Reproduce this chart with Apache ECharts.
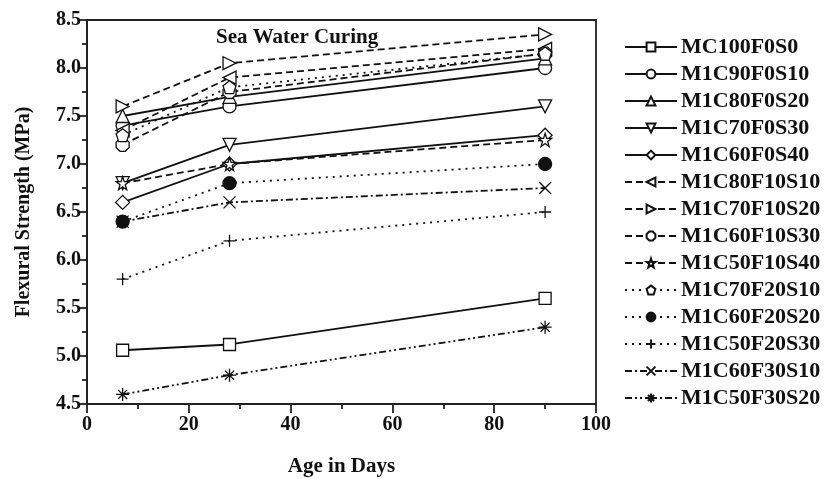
<!DOCTYPE html>
<html>
<head>
<meta charset="utf-8">
<script src="https://cdn.jsdelivr.net/npm/echarts@6/dist/echarts.min.js"></script>
<style>
  html, body { margin: 0; padding: 0; background: #fff; }
  #chart { width: 827px; height: 479px; }
</style>
</head>
<body>
<div id="chart"></div>
<script>
// ages (days)
var days = [7, 28, 90];

var names = [
  'MC100F0S0', 'M1C90F0S10', 'M1C80F0S20', 'M1C70F0S30', 'M1C60F0S40',
  'M1C80F10S10', 'M1C70F10S20', 'M1C60F10S30', 'M1C50F10S40',
  'M1C70F20S10', 'M1C60F20S20', 'M1C50F20S30',
  'M1C60F30S10', 'M1C50F30S20'
];

// flexural strength (MPa)
var mc100f0s0   = [5.06, 5.12, 5.6];
var m1c90f0s10  = [7.4, 7.6, 8.0];
var m1c80f0s20  = [7.5, 7.7, 8.1];
var m1c70f0s30  = [6.8, 7.2, 7.6];
var m1c60f0s40  = [6.6, 7.0, 7.3];
var m1c80f10s10 = [7.35, 7.9, 8.2];
var m1c70f10s20 = [7.6, 8.05, 8.35];
var m1c60f10s30 = [7.2, 7.75, 8.15];
var m1c50f10s40 = [6.8, 7.0, 7.25];
var m1c70f20s10 = [7.3, 7.8, 8.15];
var m1c60f20s20 = [6.4, 6.8, 7.0];
var m1c50f20s30 = [5.8, 6.2, 6.5];
var m1c60f30s10 = [6.4, 6.6, 6.75];
var m1c50f30s20 = [4.6, 4.8, 5.3];

var values = [
  mc100f0s0, m1c90f0s10, m1c80f0s20, m1c70f0s30, m1c60f0s40,
  m1c80f10s10, m1c70f10s20, m1c60f10s30, m1c50f10s40,
  m1c70f20s10, m1c60f20s20, m1c50f20s30,
  m1c60f30s10, m1c50f30s20
];

var FONT = '"Liberation Serif", "Times New Roman", serif';

var SOLID = 'solid';
var DASH = [7, 4];
var DOT = [2, 5];
var DASHDOT = [7, 3, 2, 3];
var DASHDOTDOT = [7, 3, 2, 3, 2, 3];

var hexagon = 'path://M3,0L7,0L10,3L10,7L7,10L3,10L0,7L0,3Z';
var pentagon = 'path://M5,0L10,3.8L8.1,10L1.9,10L0,3.8Z';
var star = 'path://M5,0L6.2,3.6L10,3.6L7,5.9L8.1,9.6L5,7.4L1.9,9.6L3,5.9L0,3.6L3.8,3.6Z';
var diamond = 'path://M5,0L10,5L5,10L0,5Z';
var plus = 'path://M0,5L10,5M5,0L5,10';
var cross = 'path://M0,0L10,10M10,0L0,10';
var asterisk = 'path://M0,5L10,5M5,0L5,10M1.5,1.5L8.5,8.5M8.5,1.5L1.5,8.5';

var styles = [
  { symbol: 'rect', size: 12, line: SOLID },
  { symbol: 'circle', size: 13, line: SOLID },
  { symbol: 'triangle', size: 13, line: SOLID },
  { symbol: 'triangle', size: 13, line: SOLID, rotate: 180 },
  { symbol: diamond, size: 14, line: SOLID },
  { symbol: 'triangle', size: 13, line: DASH, rotate: 90 },
  { symbol: 'triangle', size: 13, line: DASH, rotate: -90 },
  { symbol: hexagon, size: 13, line: DASH },
  { symbol: star, size: 13, line: DASH },
  { symbol: pentagon, size: 13, line: DOT },
  { symbol: 'circle', size: 13, line: DOT, filled: true },
  { symbol: plus, size: 12, line: DOT, stroke: true },
  { symbol: cross, size: 12, line: DASHDOT, stroke: true },
  { symbol: asterisk, size: 13, line: DASHDOTDOT, stroke: true }
];

var series = names.map(function (name, i) {
  var st = styles[i];
  return {
    name: name,
    type: 'line',
    data: days.map(function (d, j) { return [d, values[i][j]]; }),
    symbol: st.symbol,
    symbolSize: st.size,
    symbolRotate: st.rotate || 0,
    showAllSymbol: true,
    lineStyle: { color: '#111', width: 1.8, type: st.line },
    itemStyle: {
      color: st.filled ? '#111' : (st.stroke ? 'none' : '#fff'),
      borderColor: '#111',
      borderWidth: 1.3
    },
    emphasis: { disabled: true },
    animation: false,
    z: 2
  };
});

var chart = echarts.init(document.getElementById('chart'));
chart.setOption({
  backgroundColor: '#fff',
  animation: false,
  title: {
    text: 'Sea Water Curing',
    left: 211,
    top: 22,
    textStyle: { fontFamily: FONT, fontWeight: 'bold', fontSize: 21, color: '#111' }
  },
  legend: {
    orient: 'vertical',
    left: 624,
    top: 36,
    padding: 0,
    itemWidth: 52,
    itemHeight: 11,
    itemGap: 5,
    selectedMode: false,
    data: names,
    textStyle: { fontFamily: FONT, fontWeight: 'bold', fontSize: 22, color: '#111', padding: [0, 0, 0, -1] }
  },
  grid: {
    left: 87,
    right: 231,
    top: 20,
    bottom: 75,
    outerBoundsMode: 'none',
    show: true,
    borderColor: '#222',
    borderWidth: 1.8
  },
  xAxis: {
    type: 'value',
    min: 0,
    max: 100,
    interval: 20,
    splitNumber: 2,
    name: 'Age in Days',
    nameLocation: 'middle',
    nameGap: 52,
    nameTextStyle: { fontFamily: FONT, fontWeight: 'bold', fontSize: 21, color: '#111' },
    axisLine: { lineStyle: { color: '#222', width: 1.8 } },
    axisTick: { length: 9, lineStyle: { color: '#222', width: 1.8 } },
    minorTick: { show: true, splitNumber: 2, length: 5, lineStyle: { color: '#222', width: 1.8 } },
    splitLine: { show: false },
    axisLabel: { margin: 11, fontFamily: FONT, fontWeight: 'bold', fontSize: 20, color: '#111' }
  },
  yAxis: {
    type: 'value',
    min: 4.5,
    max: 8.5,
    interval: 0.5,
    name: 'Flexural Strength (MPa)',
    nameLocation: 'middle',
    nameGap: 53,
    nameTextStyle: { fontFamily: FONT, fontWeight: 'bold', fontSize: 20, color: '#111' },
    axisLine: { show: true, lineStyle: { color: '#222', width: 1.8 } },
    axisTick: { show: true, length: 9, lineStyle: { color: '#222', width: 1.8 } },
    minorTick: { show: true, splitNumber: 2, length: 5, lineStyle: { color: '#222', width: 1.8 } },
    splitLine: { show: false },
    axisLabel: {
      margin: 6,
      fontFamily: FONT, fontWeight: 'bold', fontSize: 20, color: '#111',
      formatter: function (v) { return v.toFixed(1); }
    }
  },
  series: series
});
</script>
</body>
</html>
